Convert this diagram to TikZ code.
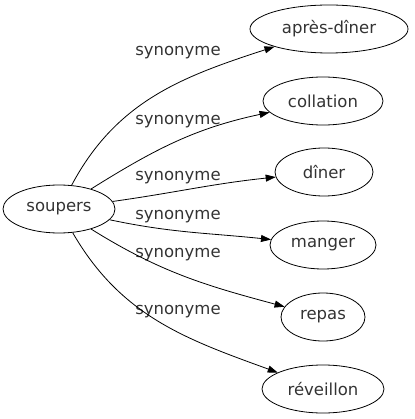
\documentclass[tikz,border=0pt]{standalone}
\usepackage{fontspec}
\setmainfont{DejaVu Sans}
\usetikzlibrary{shapes.geometric,arrows.meta}

\begin{document}
\begin{tikzpicture}[x=1pt,y=-1pt,->,>={Stealth[inset=0pt,length=10pt,width=7pt]},thick,
    word node/.style={ellipse,draw,line width=0.8pt,minimum height=48pt,inner sep=0pt,text=black!80,font=\fontsize{16.5}{18}\selectfont},
    rel label/.style={text=black!80,font=\fontsize{16.5}{18}\selectfont}]
                \useasboundingbox (0,0) rectangle (414,419);
                \node[word node, minimum width=112pt] (soupers) at (59,209) {soupers};
                \node[word node, minimum width=158pt] (apres) at (329,29) {après-dîner};
                \node[word node, minimum width=120pt] (collation) at (323,101) {collation};
                \node[word node, minimum width=98pt] (diner) at (324,172) {dîner};
                \node[word node, minimum width=106pt] (manger) at (323,245) {manger};
                \node[word node, minimum width=84pt] (repas) at (323,317) {repas};
                \node[word node, minimum width=122pt] (reveillon) at (323,389) {réveillon};

                \node[rel label] (l1) at (178,53) {synonyme};
                \node[rel label] (l2) at (178,122) {synonyme};
                \node[rel label] (l3) at (178,178) {synonyme};
                \node[rel label] (l4) at (178,217) {synonyme};
                \node[rel label] (l5) at (178,255) {synonyme};
                \node[rel label] (l6) at (178,312) {synonyme};

                \path[line width=0.8pt]
                    (soupers) edge[out=62,in=198] (apres)
                    (soupers) edge[out=32,in=192] (collation)
                    (soupers) edge[out=8,in=186] (diner)
                    (soupers) edge[out=-12,in=174] (manger)
                    (soupers) edge[out=-32,in=165] (repas)
                    (soupers) edge[out=-60,in=160] (reveillon)
                    ;
            \end{tikzpicture}
\end{document}
